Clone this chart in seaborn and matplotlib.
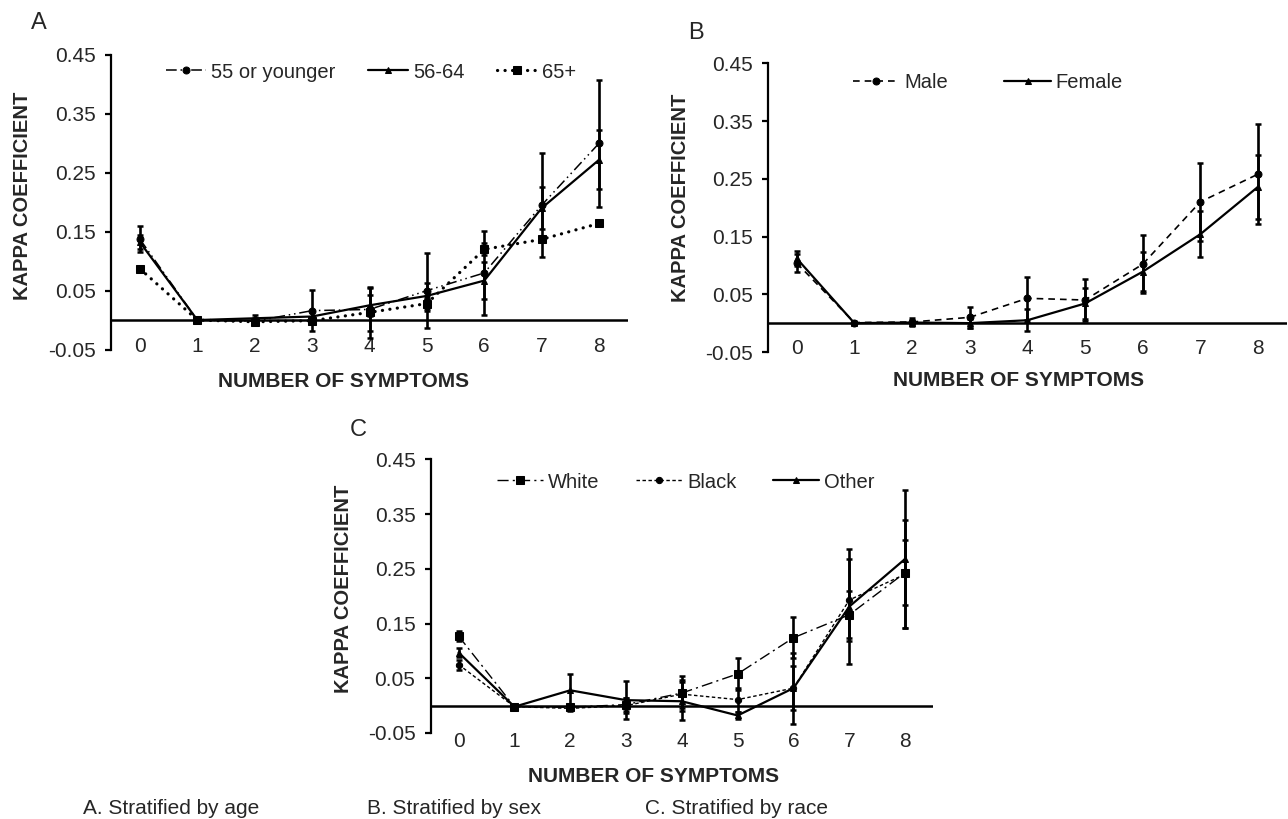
import numpy as np
import pandas as pd
import matplotlib
matplotlib.use("Agg")
import matplotlib.pyplot as plt
import seaborn as sns

# ---------------- data ----------------
symptoms = [0, 1, 2, 3, 4, 5, 6, 7, 8]
y_ticks = [-0.05, 0.05, 0.15, 0.25, 0.35, 0.45]
y_tick_labels = ["-0.05", "0.05", "0.15", "0.25", "0.35", "0.45"]

# Panel A: stratified by age
age_labels = ["55 or younger", "56-64", "65+"]
age_le55 = [0.137, 0.000, -0.002, 0.016, 0.018, 0.050, 0.080, 0.195, 0.300]
age_le55_err = [0.022, 0.002, 0.006, 0.035, 0.037, 0.063, 0.071, 0.088, 0.108]
age_56_64 = [0.132, 0.000, 0.003, 0.006, 0.025, 0.041, 0.067, 0.190, 0.272]
age_56_64_err = [0.012, 0.002, 0.005, 0.010, 0.018, 0.022, 0.031, 0.036, 0.050]
age_65p = [0.087, 0.000, -0.003, -0.001, 0.013, 0.028, 0.120, 0.137, 0.164]
age_65p_err = [0.0, 0.0, 0.004, 0.006, 0.043, 0.012, 0.010, 0.0, 0.0]

# Panel B: stratified by sex
sex_labels = ["Male", "Female"]
sex_male = [0.104, 0.001, 0.002, 0.010, 0.043, 0.040, 0.102, 0.210, 0.258]
sex_male_err = [0.016, 0.002, 0.007, 0.018, 0.037, 0.037, 0.050, 0.067, 0.087]
sex_female = [0.112, 0.000, 0.001, 0.000, 0.005, 0.034, 0.089, 0.154, 0.236]
sex_female_err = [0.013, 0.002, 0.005, 0.008, 0.019, 0.026, 0.034, 0.040, 0.055]

# Panel C: stratified by race
race_labels = ["White", "Black", "Other"]
race_white = [0.127, -0.002, -0.003, 0.002, 0.023, 0.058, 0.124, 0.166, 0.243]
race_white_err = [0.009, 0.002, 0.004, 0.012, 0.032, 0.029, 0.037, 0.043, 0.060]
race_black = [0.075, -0.002, -0.005, 0.000, 0.021, 0.011, 0.032, 0.193, 0.240]
race_black_err = [0.009, 0.002, 0.004, 0.014, 0.025, 0.022, 0.040, 0.075, 0.099]
race_other = [0.097, -0.002, 0.028, 0.010, 0.008, -0.018, 0.032, 0.181, 0.268]
race_other_err = [0.009, 0.002, 0.029, 0.035, 0.035, 0.006, 0.065, 0.105, 0.126]

captions = ["A. Stratified by age", "B. Stratified by sex", "C. Stratified by race"]

# ---------------- style ----------------
sns.set_style("white")
plt.rcParams["font.family"] = ["Liberation Sans", "DejaVu Sans"]

W, H = 1288, 819
fig = plt.figure(figsize=(W / 100, H / 100), dpi=100)


def px_axes(left, right, top, bottom):
    return fig.add_axes([left / W, 1 - bottom / H, (right - left) / W, (bottom - top) / H])


def style_axes(ax, xpad):
    ax.set_xlim(-0.5, 8.5)
    ax.set_ylim(-0.05, 0.45)
    ax.set_yticks(y_ticks)
    ax.set_yticklabels(y_tick_labels)
    ax.set_xticks(symptoms)
    ax.set_xticklabels([str(s) for s in symptoms])
    for s in ["top", "right", "bottom"]:
        ax.spines[s].set_visible(False)
    ax.spines["left"].set_color("black")
    ax.spines["left"].set_linewidth(1.6)
    ax.tick_params(axis="y", direction="out", length=4, width=1.6, color="black",
                   labelsize=15, pad=7, left=True)
    ax.tick_params(axis="x", length=0, labelsize=15, pad=xpad)
    ax.axhline(0, color="black", lw=1.8, zorder=1)
    ax.set_xlabel("")
    ax.set_ylabel("")


def draw_series(ax, values, errs, label, marker, ms, ls, lw, capstyle="butt"):
    df = pd.DataFrame({"x": symptoms, "y": values})
    sns.lineplot(data=df, x="x", y="y", ax=ax, color="black", marker=marker,
                 markersize=ms, markeredgecolor="black", markerfacecolor="black",
                 linestyle=ls, linewidth=lw, label=label, estimator=None,
                 errorbar=None, zorder=3, dash_capstyle=capstyle)
    ax.errorbar(symptoms, values, yerr=errs, fmt="none", ecolor="black",
                elinewidth=1.9, capsize=2.4, capthick=1.8, zorder=2)


def add_legend(ax, x_left, y_center, ncol, colspace, handlelen=2.3):
    leg = ax.legend(loc="center left", bbox_to_anchor=(x_left / W, 1 - y_center / H),
                    bbox_transform=fig.transFigure, ncol=ncol, frameon=False,
                    fontsize=14.5, handlelength=handlelen, handletextpad=0.25,
                    columnspacing=colspace, borderpad=0, borderaxespad=0,
                    numpoints=1)
    return leg


def add_labels(ax, ax_box, xl_center, yl_center):
    left, right, top, bottom = ax_box
    wpx, hpx = right - left, bottom - top
    ax.set_xlabel("NUMBER OF SYMPTOMS", fontsize=15, fontweight="bold")
    ax.xaxis.set_label_coords((xl_center[0] - left) / wpx, (bottom - xl_center[1]) / hpx)
    ax.xaxis.label.set_va("center")
    ax.set_ylabel("KAPPA COEFFICIENT", fontsize=14.5, fontweight="bold")
    ax.yaxis.set_label_coords((yl_center[0] - left) / wpx, (bottom - yl_center[1]) / hpx)
    ax.yaxis.label.set_va("center")


# ---------------- Panel A ----------------
boxA = (111.3, 627.7, 55, 349.5)
axA = px_axes(*boxA)
style_axes(axA, -9)
draw_series(axA, age_le55, age_le55_err, age_labels[0], "o", 5, (0, (7, 2.5, 1, 2.5, 1, 2.5)), 1.1)
draw_series(axA, age_56_64, age_56_64_err, age_labels[1], "^", 4, "-", 1.6)
draw_series(axA, age_65p, age_65p_err, age_labels[2], "s", 5.5, (0, (0.05, 2.3)), 2.3, "round")
add_legend(axA, 166, 72, 3, 1.6, handlelen=2.0)
add_labels(axA, boxA, (343.5, 381), (22.5, 196))

# ---------------- Panel B ----------------
boxB = (767.9, 1286.8, 63.3, 352)
axB = px_axes(*boxB)
style_axes(axB, -9)
draw_series(axB, sex_male, sex_male_err, sex_labels[0], "o", 5, (0, (4, 3)), 1.2)
draw_series(axB, sex_female, sex_female_err, sex_labels[1], "^", 4, "-", 1.6)
add_legend(axB, 853, 83, 2, 2.8)
add_labels(axB, boxB, (1019, 380), (681, 198))

# ---------------- Panel C ----------------
boxC = (430.7, 933, 459.3, 733)
axC = px_axes(*boxC)
style_axes(axC, -1)
draw_series(axC, race_white, race_white_err, race_labels[0], "s", 5.5, (0, (8, 3, 1.5, 3)), 1.0)
draw_series(axC, race_black, race_black_err, race_labels[1], "o", 4.5, (0, (2.5, 1.8)), 1.0)
draw_series(axC, race_other, race_other_err, race_labels[2], "^", 4, "-", 1.6)
add_legend(axC, 497, 482, 3, 1.8)
add_labels(axC, boxC, (654, 777), (343, 589))

# ---------------- panel letters & captions ----------------
fig.text(39 / W, 1 - 23 / H, "A", fontsize=17, ha="center", va="center")
fig.text(696 / W, 1 - 33 / H, "B", fontsize=17, ha="center", va="center")
fig.text(358 / W, 1 - 430 / H, "C", fontsize=17, ha="center", va="center")

fig.text(83 / W, 1 - 808 / H, captions[0], fontsize=15, ha="left", va="center")
fig.text(367 / W, 1 - 808 / H, captions[1], fontsize=15, ha="left", va="center")
fig.text(645 / W, 1 - 808 / H, captions[2], fontsize=15, ha="left", va="center")

fig.savefig("out.png", dpi=100, facecolor="white")
